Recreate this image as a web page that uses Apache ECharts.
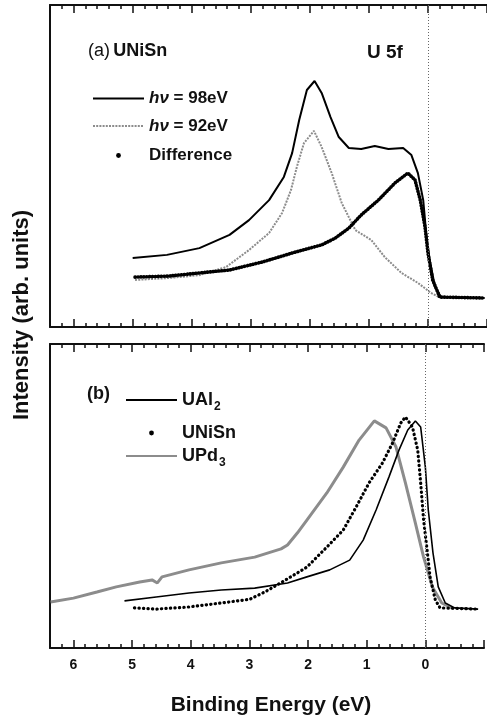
<!DOCTYPE html>
<html>
<head>
<meta charset="utf-8">
<script src="https://cdn.jsdelivr.net/npm/echarts@6/dist/echarts.min.js"></script>
<style>
html,body{margin:0;padding:0;background:#fff;}
#chart{width:487px;height:721px;}
</style>
</head>
<body>
<div id="chart"></div>
<script>
// ---- data (binding energy in eV, intensity in arbitrary units) ----
const xTickLabels = ['6','5','4','3','2','1','0'];

// panel (a) UNiSn
const hv98E = [5.0, 4.42, 3.87, 3.36, 3.03, 2.69, 2.44, 2.30, 2.18, 2.05, 1.92, 1.80, 1.65, 1.51, 1.34, 1.13, 0.90, 0.67, 0.42, 0.28, 0.17, 0.08, 0.03, -0.03, -0.12, -0.22, -0.96];
const hv98V = [21.4, 22.4, 24.5, 28.6, 33.2, 39.4, 46.6, 54.0, 64.3, 73.6, 76.4, 72.7, 65.2, 59.0, 55.6, 55.3, 56.2, 55.3, 55.6, 53.4, 47.8, 39.4, 29.2, 20.8, 12.4, 9.3, 9.0];

const hv92E = [4.96, 4.4, 3.87, 3.42, 3.03, 2.69, 2.47, 2.32, 2.22, 2.10, 1.93, 1.80, 1.63, 1.46, 1.23, 0.96, 0.73, 0.45, 0.17, -0.05, -0.22, -0.96];
const hv92V = [14.6, 15.2, 16.1, 18.6, 23.9, 29.2, 35.4, 42.5, 49.7, 57.1, 60.9, 55.9, 47.8, 38.5, 30.1, 27.0, 21.7, 16.8, 13.7, 10.6, 9.0, 9.0];

const diffE = [4.96, 4.4, 3.87, 3.36, 2.80, 2.24, 1.80, 1.57, 1.34, 1.13, 0.84, 0.56, 0.34, 0.22, 0.13, 0.05, 0.0, -0.08, -0.20, -0.96];
const diffV = [15.5, 15.8, 16.8, 17.7, 20.2, 23.3, 25.5, 27.6, 30.7, 34.8, 39.4, 44.7, 47.8, 45.7, 39.4, 31.1, 23.0, 14.6, 9.3, 9.0];

// panel (b)
const ual2E = [5.13, 4.59, 4.03, 3.48, 2.91, 2.35, 2.02, 1.63, 1.29, 1.06, 0.84, 0.62, 0.45, 0.30, 0.17, 0.08, 0.0, -0.05, -0.13, -0.22, -0.34, -0.50, -0.90];
const ual2V = [15.5, 16.8, 18.1, 19.1, 19.7, 21.4, 23.4, 25.7, 28.9, 35.5, 45.4, 56.3, 65.1, 71.7, 74.7, 72.7, 59.5, 45.4, 31.3, 20.1, 14.8, 13.2, 12.8];

const uniE = [4.96, 4.59, 4.03, 3.48, 3.0, 2.74, 2.46, 2.2, 2.02, 1.68, 1.40, 1.18, 0.96, 0.73, 0.56, 0.42, 0.34, 0.22, 0.13, 0.08, 0.03, -0.03, -0.08, -0.17, -0.25, -0.90];
const uniV = [13.2, 12.8, 13.5, 14.8, 16.0, 18.4, 21.5, 24.5, 26.6, 33.2, 38.8, 46.4, 54.3, 60.9, 67.4, 74.0, 76.0, 72.7, 65.1, 54.3, 42.1, 32.2, 23.4, 15.8, 13.2, 12.8];

const upd3E = [6.39, 6.0, 5.6, 5.27, 4.87, 4.66, 4.57, 4.49, 4.03, 3.48, 2.91, 2.46, 2.35, 2.18, 2.02, 1.68, 1.40, 1.13, 0.87, 0.67, 0.50, 0.34, 0.17, 0.03, -0.12, -0.28, -0.45];
const upd3V = [15.1, 16.4, 18.4, 20.1, 21.7, 22.4, 21.4, 23.4, 25.7, 28.0, 29.9, 32.6, 33.9, 37.9, 42.1, 51.0, 59.5, 68.4, 74.7, 72.4, 66.1, 54.3, 41.1, 29.9, 20.1, 14.8, 13.2];

// ---- helpers ----
const zip = (xs, ys) => xs.map((x, i) => [x, ys[i]]);
const FONT = "'Liberation Sans', Arial, sans-serif";
const INK = '#111';

const grids = [
  {left: 50, top: 5, width: 439.5, height: 322},
  {left: 50, top: 344, width: 439.5, height: 304}
];

function xAx(gridIndex, position, major, showLabel) {
  return {
    type: 'value', gridIndex, position, inverse: true,
    min: -1, max: 6.4, interval: major ? 1 : 0.2,
    axisLine: {show: major, onZero: false, lineStyle: {color: INK, width: 2}},
    axisTick: {show: true, inside: true, length: major ? 8 : 4, lineStyle: {color: INK, width: 1.5}},
    axisLabel: {
      show: !!showLabel, margin: 10, color: INK,
      fontFamily: FONT, fontWeight: 'bold', fontSize: 14,
      formatter: v => {
        const r = Math.round(v);
        if (Math.abs(v - r) > 1e-6 || r < 0) return '';
        return xTickLabels.indexOf(String(r)) >= 0 ? String(r) : '';
      }
    },
    splitLine: {show: false}
  };
}
function yAx(gridIndex) {
  return {
    type: 'value', gridIndex, min: 0, max: 100, position: 'left',
    axisLine: {show: true, onZero: false, lineStyle: {color: INK, width: 2}},
    axisTick: {show: false}, axisLabel: {show: false}, splitLine: {show: false}
  };
}

const zeroLine = {
  silent: true, symbol: 'none', label: {show: false},
  lineStyle: {type: [1, 2], color: '#666', width: 1},
  emphasis: {disabled: true},
  data: [{xAxis: 0}]
};

const dotTop = {color: '#000', width: 3.6, type: [0.3, 2.6], cap: 'round'};
const dotBottom = {color: '#000', width: 3.2, type: [0.3, 4.2], cap: 'round'};

const legendText = {
  fontFamily: FONT, fontWeight: 'bold', fontSize: 17, color: INK,
  rich: {
    it: {fontFamily: FONT, fontWeight: 'bold', fontStyle: 'italic', fontSize: 17, color: INK},
    m: {fontFamily: FONT, fontWeight: 'bold', fontSize: 18, color: INK},
    s: {fontFamily: FONT, fontWeight: 'bold', fontSize: 12, color: INK, padding: [14, 0, 0, 1]}
  }
};
function leg(name, left, cy, dot, fmt) {
  const h = dot ? 6 : 10;
  const l = {
    data: [{name}], left, top: cy - h / 2,
    itemWidth: 51, itemHeight: h, selectedMode: false,
    textStyle: legendText, padding: 0,
    itemStyle: dot ? {color: '#000', borderWidth: 0} : {opacity: 0},
    lineStyle: dot ? {opacity: 0} : {}
  };
  if (fmt) l.formatter = fmt;
  return l;
}

const option = {
  animation: false,
  backgroundColor: '#fff',
  grid: grids,
  xAxis: [
    xAx(0, 'bottom', true), xAx(0, 'bottom', false),
    xAx(0, 'top', true), xAx(0, 'top', false),
    xAx(1, 'bottom', true, true), xAx(1, 'bottom', false),
    xAx(1, 'top', true), xAx(1, 'top', false)
  ],
  yAxis: [yAx(0), yAx(1)],
  legend: [
    leg('hv98', 92, 95, false, () => '{it|hν} = 98eV'),
    leg('hv92', 92, 122.5, false, () => '{it|hν} = 92eV'),
    leg('Difference', 92, 150, true),
    leg('UAl2', 125, 396, false, () => '{m|UAl}{s|2}'),
    leg('UNiSn', 125, 427, true, () => '{m|UNiSn}'),
    leg('UPd3', 125, 452, false, () => '{m|UPd}{s|3}')
  ],
  series: [
    {name: 'hv92', type: 'line', xAxisIndex: 0, yAxisIndex: 0, symbol: 'none', z: 2,
     itemStyle: {color: '#8c8c8c'},
     lineStyle: {color: '#8c8c8c', width: 2, type: [2, 1.2]}, data: zip(hv92E, hv92V)},
    {name: 'hv98', type: 'line', xAxisIndex: 0, yAxisIndex: 0, symbol: 'none', z: 3,
     itemStyle: {color: '#000'},
     lineStyle: {color: '#000', width: 2}, data: zip(hv98E, hv98V), markLine: zeroLine},
    {name: 'Difference', type: 'line', xAxisIndex: 0, yAxisIndex: 0, symbol: 'none', z: 4,
     itemStyle: {color: '#000'},
     lineStyle: dotTop, data: zip(diffE, diffV)},
    {name: 'UPd3', type: 'line', xAxisIndex: 4, yAxisIndex: 1, symbol: 'none', z: 2,
     itemStyle: {color: '#8c8c8c'},
     lineStyle: {color: '#8c8c8c', width: 3}, data: zip(upd3E, upd3V)},
    {name: 'UAl2', type: 'line', xAxisIndex: 4, yAxisIndex: 1, symbol: 'none', z: 3,
     itemStyle: {color: '#000'},
     lineStyle: {color: '#000', width: 1.6}, data: zip(ual2E, ual2V), markLine: zeroLine},
    {name: 'UNiSn', type: 'line', xAxisIndex: 4, yAxisIndex: 1, symbol: 'none', z: 4,
     itemStyle: {color: '#000'},
     lineStyle: dotBottom, data: zip(uniE, uniV)}
  ],
  graphic: [
    {type: 'text', left: 88, top: 42, style: {
      text: '{n|(a)} {b|UNiSn}', fill: INK,
      rich: {
        n: {fontFamily: FONT, fontSize: 18, fontWeight: 'normal', fill: INK},
        b: {fontFamily: FONT, fontSize: 18, fontWeight: 'bold', fill: INK}
      }}},
    {type: 'text', left: 367, top: 43, style: {
      text: 'U 5f', fill: INK, font: "bold 19px " + FONT}},
    {type: 'text', left: 87, top: 385, style: {
      text: '(b)', fill: INK, font: "bold 18px " + FONT}},
    {type: 'text', x: 22, y: 315, rotation: Math.PI / 2, style: {
      text: 'Intensity (arb. units)', fill: INK, font: "bold 22px " + FONT,
      align: 'center', verticalAlign: 'middle'}},
    {type: 'text', x: 271, y: 705, style: {
      text: 'Binding Energy (eV)', fill: INK, font: "bold 21px " + FONT,
      align: 'center', verticalAlign: 'middle'}}
  ]
};

const chart = echarts.init(document.getElementById('chart'), null, {renderer: 'canvas'});
chart.setOption(option);
</script>
</body>
</html>
